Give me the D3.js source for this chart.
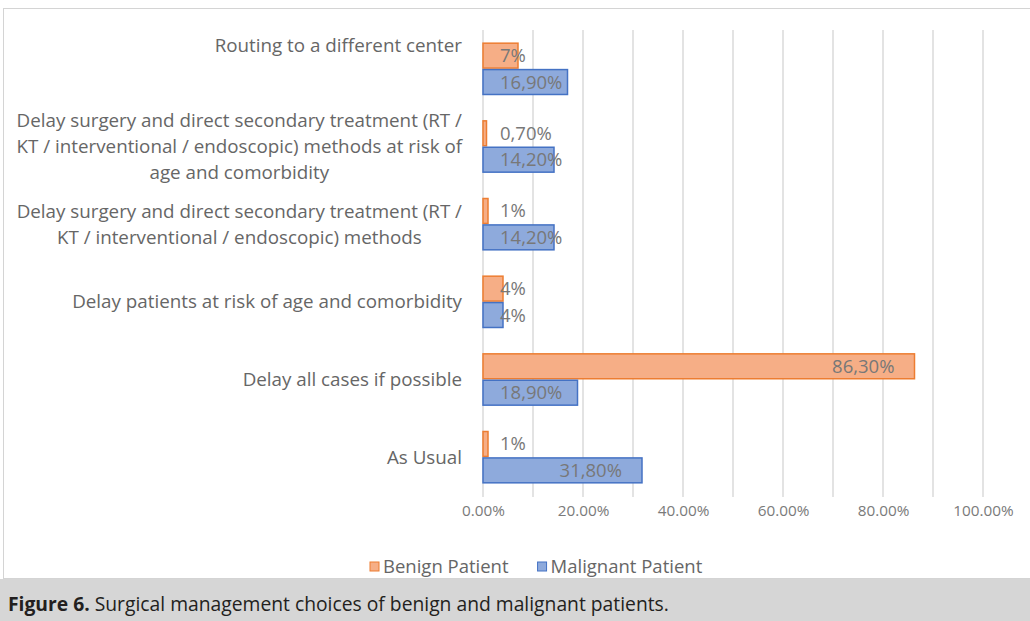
<!DOCTYPE html>
<html>
<head>
<meta charset="utf-8">
<script src="https://cdnjs.cloudflare.com/ajax/libs/d3/7.8.5/d3.min.js"></script>
<style>
    body { margin: 0; background: #fff; }
    svg { display: block; }
</style>
</head>
<body>
<div id="chart"></div>
<script>
// categories top to bottom, each split in the lines shown on the chart
const categories = [
    ['Routing to a different center'],
    ['Delay surgery and direct secondary treatment (RT /', 'KT / interventional / endoscopic) methods at risk of', 'age and comorbidity'],
    ['Delay surgery and direct secondary treatment (RT /', 'KT / interventional / endoscopic) methods'],
    ['Delay patients at risk of age and comorbidity'],
    ['Delay all cases if possible'],
    ['As Usual']
]
const seriesNames = ['Benign Patient', 'Malignant Patient']
const benign = [7, 0.7, 1, 4, 86.3, 1]
const malignant = [16.9, 14.2, 14.2, 4, 18.9, 31.8]
const benignLabels = ['7%', '0,70%', '1%', '4%', '86,30%', '1%']
const malignantLabels = ['16,90%', '14,20%', '14,20%', '4%', '18,90%', '31,80%']
const xTicks = [0, 20, 40, 60, 80, 100]
const gridTicks = [0, 10, 20, 30, 40, 50, 60, 70, 80, 90, 100]

function init() {
    const width = 1030
    const height = 621
    const colors = [
        { fill: '#f6ae86', stroke: '#ed7d31' },
        { fill: '#8eaadc', stroke: '#4472c4' }
    ]
    const textGrey = '#666666'
    const font = '"Open Sans", sans-serif'

    const svg = d3.select('#chart')
        .append('svg')
        .attr('width', width)
        .attr('height', height)

    // chart frame
    svg.append('rect')
        .attr('x', 3.5)
        .attr('y', 8.5)
        .attr('width', width + 10)
        .attr('height', 570)
        .attr('fill', '#fff')
        .attr('stroke', '#d4d4d4')

    const xScale = d3.scaleLinear()
        .domain([0, 100])
        .range([483, 983])

    const yScale = d3.scaleBand()
        .domain(d3.range(categories.length))
        .range([30, 496])
        .paddingInner(0.32)
        .paddingOuter(0.16)

    const ySub = d3.scaleBand()
        .domain([0, 1])
        .range([0, yScale.bandwidth()])

    // gridlines
    svg.append('g')
        .selectAll('line')
        .data(gridTicks)
        .enter()
        .append('line')
        .attr('x1', d => xScale(d))
        .attr('x2', d => xScale(d))
        .attr('y1', 30)
        .attr('y2', 497)
        .attr('stroke', '#dcdcdc')
        .attr('stroke-width', 1.6)

    // x axis labels
    const xAxis = d3.axisBottom(xScale)
        .tickValues(xTicks)
        .tickSize(0)
        .tickPadding(0)
        .tickFormat(d => d3.format('.2f')(d) + '%')

    const xAxisG = svg.append('g')
        .attr('transform', 'translate(0, 505)')
        .call(xAxis)
    xAxisG.select('.domain').remove()
    xAxisG.selectAll('text')
        .attr('font-family', font)
        .attr('font-size', '15.3px')
        .attr('fill', '#7a7a7a')

    // bars
    const series = [benign, malignant]
    const seriesLabels = [benignLabels, malignantLabels]

    series.forEach((values, s) => {
        svg.append('g')
            .selectAll('rect')
            .data(values)
            .enter()
            .append('rect')
            .attr('x', xScale(0))
            .attr('y', (d, i) => yScale(i) + ySub(s) + 0.75)
            .attr('width', d => xScale(d) - xScale(0))
            .attr('height', ySub.bandwidth() - 1.5)
            .attr('fill', colors[s].fill)
            .attr('stroke', colors[s].stroke)
            .attr('stroke-width', 1.5)

        // data labels: inside end, pushed out past the start for short bars
        svg.append('g')
            .selectAll('text')
            .data(values)
            .enter()
            .append('text')
            .attr('y', (d, i) => yScale(i) + ySub(s) + ySub.bandwidth() / 2)
            .attr('dy', '0.35em')
            .attr('font-family', font)
            .attr('font-size', '18.5px')
            .attr('fill', '#787878')
            .text((d, i) => seriesLabels[s][i])
            .attr('x', function(d) {
                const w = this.getComputedTextLength()
                return Math.max(xScale(0) + 17, xScale(d) - 20 - w)
            })
    })

    // category labels, lines centred in a right-aligned block
    const labelRight = 462
    const lineHeight = 26
    const labelShift = { 0: -23 }

    categories.forEach((lines, i) => {
        const g = svg.append('g')
        const cy = yScale(i) + yScale.bandwidth() / 2 + (labelShift[i] || 0)
        const texts = g.selectAll('text')
            .data(lines)
            .enter()
            .append('text')
            .attr('font-family', font)
            .attr('font-size', '18.8px')
            .attr('fill', textGrey)
            .attr('text-anchor', 'middle')
            .attr('dy', '0.35em')
            .attr('y', (d, j) => cy + (j - (lines.length - 1) / 2) * lineHeight)
            .text(d => d)
        let maxW = 0
        texts.each(function() { maxW = Math.max(maxW, this.getComputedTextLength()) })
        texts.attr('x', labelRight - maxW / 2)
    })

    // legend
    const legend = svg.append('g')
        .attr('transform', 'translate(370, 567)')
    let lx = 0
    seriesNames.forEach((name, s) => {
        legend.append('rect')
            .attr('x', lx)
            .attr('y', -5)
            .attr('width', 9)
            .attr('height', 9)
            .attr('fill', colors[s].fill)
            .attr('stroke', colors[s].stroke)
        const t = legend.append('text')
            .attr('x', lx + 13)
            .attr('dy', '0.35em')
            .attr('font-family', font)
            .attr('font-size', '18.5px')
            .attr('fill', textGrey)
            .text(name)
        lx += 13 + t.node().getComputedTextLength() + 29
    })

    // caption band
    svg.append('rect')
        .attr('x', 0)
        .attr('y', 579)
        .attr('width', width)
        .attr('height', height - 579)
        .attr('fill', '#d6d6d6')

    const caption = svg.append('text')
        .attr('x', 8)
        .attr('y', 604)
        .attr('dy', '0.35em')
        .attr('font-family', font)
        .attr('font-size', '19.3px')
        .attr('fill', '#231f20')
    caption.append('tspan')
        .attr('font-weight', 'bold')
        .text('Figure 6.')
    caption.append('tspan')
        .text(' Surgical management choices of benign and malignant patients.')
}

init()
</script>
</body>
</html>
